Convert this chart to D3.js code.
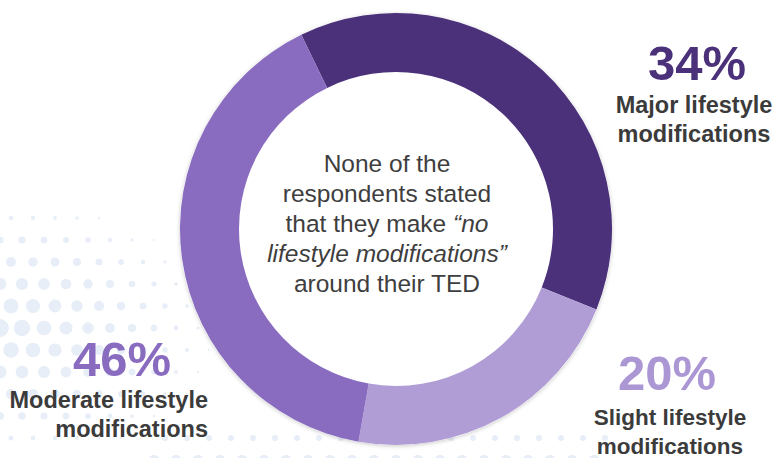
<!DOCTYPE html>
<html>
<head>
<meta charset="utf-8">
<script src="https://cdn.jsdelivr.net/npm/d3@7"></script>
<style>
  html, body { margin: 0; padding: 0; background: #ffffff; }
  svg { display: block; }
</style>
</head>
<body>
<svg id="chart" width="776" height="458"></svg>
<script>
// ---- data ----
const categories = ["Major lifestyle modifications", "Slight lifestyle modifications", "Moderate lifestyle modifications"];
const percentLabels = [34, 20, 46];            // stated percentages
const sliceShares = [38.3, 21.7, 40.0];        // ring shares as drawn in the picture
const labelLines = [["Major lifestyle", "modifications"], ["Slight lifestyle", "modifications"], ["Moderate lifestyle", "modifications"]];
const centerLines = [
  [{t: "None of the", i: false}],
  [{t: "respondents stated", i: false}],
  [{t: "that they make ", i: false}, {t: "\u201Cno", i: true}],
  [{t: "lifestyle modifications\u201D", i: true}],
  [{t: "around their TED", i: false}]
];

// ---- styles ----
const colors = ["#4b307a", "#b09dd6", "#896cc0"];
const pctColors = ["#4b307a", "#ab97d4", "#896cc0"];
const cx = 396, cy = 229, rOuter = 216, rInner = 157;

const svg = d3.select("#chart");

const defs = svg.append("defs");
const f = defs.append("filter").attr("id", "sh").attr("x", "-10%").attr("y", "-10%").attr("width", "120%").attr("height", "120%");
f.append("feDropShadow").attr("dx", 0).attr("dy", 1).attr("stdDeviation", 2.2).attr("flood-color", "#000").attr("flood-opacity", 0.22);

// decorative halftone background (light dots)
const bg = svg.append("g").attr("fill", "#e7eef7");
for (let gx = 0; gx < 600; gx += 22) {
  for (let gy = 196; gy < 480; gy += 22) {
    const off = Math.round((gy - 196) / 22) % 2 ? 11 : 0;
    const x = gx + off, y = gy;
    const dxn = x / 240, dyn = Math.abs(y - 330) / 150;
    const d = Math.sqrt(dxn * dxn + dyn * dyn);
    let r = 0;
    if (x < 230) r = 9 * (1 - d);
    const dBottom = (458 - y) / 50;
    if (x >= 150 && dBottom < 1) r = Math.max(r, 5 * (1 - dBottom));
    if (r > 1) bg.append("circle").attr("cx", x).attr("cy", y).attr("r", r);
  }
}

// ---- donut ----
const pie = d3.pie().sort(null).value(d => d)
  .startAngle(-26 * Math.PI / 180).endAngle((360 - 26) * Math.PI / 180);
const arc = d3.arc().innerRadius(rInner).outerRadius(rOuter);

const g = svg.append("g").attr("transform", `translate(${cx},${cy})`);
g.append("circle").attr("r", rOuter).attr("fill", "#fff").attr("filter", "url(#sh)");
g.selectAll("path.slice").data(pie(sliceShares)).join("path")
  .attr("class", "slice")
  .attr("d", arc)
  .attr("fill", (d, i) => colors[i]);

// ---- center text ----
const ct = svg.append("text")
  .attr("text-anchor", "middle")
  .attr("font-family", "Liberation Sans, Arial, sans-serif")
  .attr("font-size", 24.5)
  .attr("fill", "#3e3e3e");
centerLines.forEach((line, li) => {
  line.forEach((seg, si) => {
    const ts = ct.append("tspan").text(seg.t)
      .attr("font-style", seg.i ? "italic" : "normal");
    if (si === 0) ts.attr("x", 387).attr("y", 172 + li * 30);
  });
});

// ---- labels ----
const labelPos = [
  {px: 697, x: 694, pctY: 80, lineY: 113, anchor: "middle"},
  {px: 667, x: 670, pctY: 390, lineY: 425, anchor: "middle"},
  {px: 122, x: 208, pctY: 376, lineY: 408, anchor: "end"}
];
const lab = svg.append("g").attr("font-family", "Liberation Sans, Arial, sans-serif").attr("font-weight", "bold");
percentLabels.forEach((p, i) => {
  const pos = labelPos[i];
  lab.append("text").attr("x", pos.px).attr("y", pos.pctY)
    .attr("text-anchor", "middle").attr("font-size", 49)
    .attr("fill", pctColors[i]).text(p + "%");
  labelLines[i].forEach((t, j) => {
    lab.append("text").attr("x", pos.x).attr("y", pos.lineY + j * 29)
      .attr("text-anchor", pos.anchor).attr("font-size", i === 1 ? 22.5 : 23.5)
      .attr("fill", "#3b3b3b").text(t);
  });
});
</script>
</body>
</html>
